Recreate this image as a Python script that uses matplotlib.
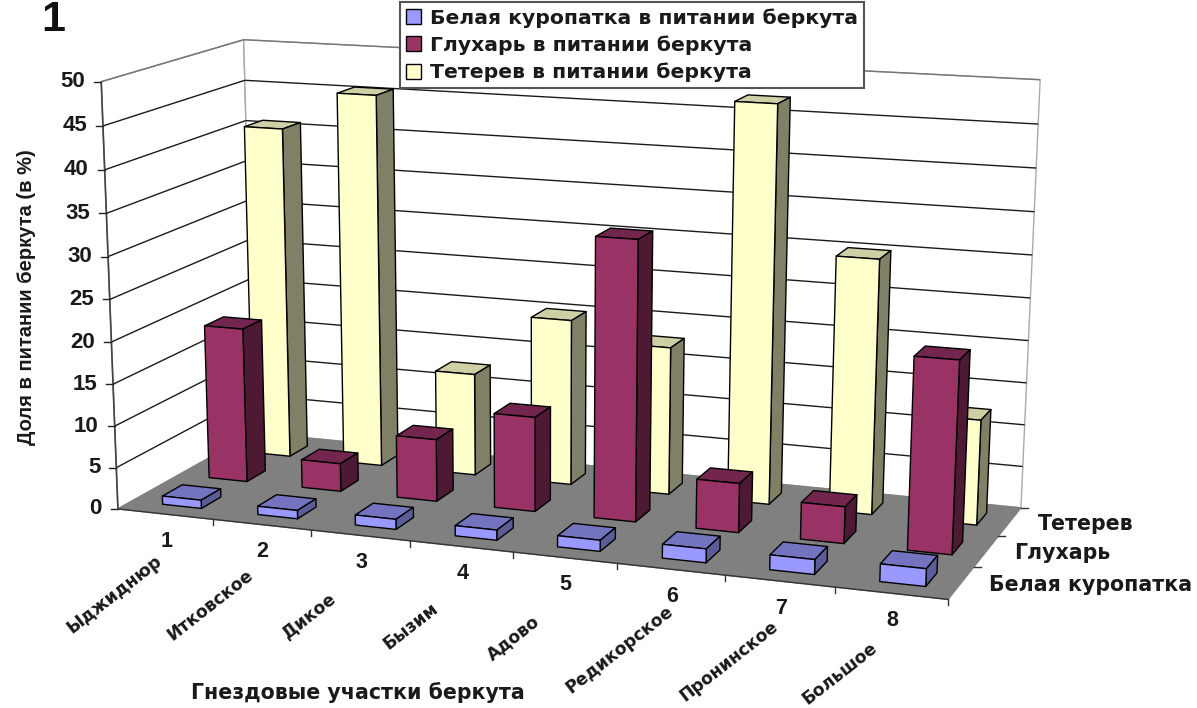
import numpy as np
import matplotlib
matplotlib.use("Agg")
import matplotlib.pyplot as plt
from matplotlib.patches import Polygon, Patch

plt.rcParams['font.family'] = ['Liberation Sans', 'DejaVu Sans']
plt.rcParams['font.weight'] = 'bold'
WIDE = ['DejaVu Sans']

# Nesting territories and prey shares, percent of the eagle's diet
site_numbers = ["1", "2", "3", "4", "5", "6", "7", "8"]
site_names = ["Ыджиднюр", "Итковское", "Дикое", "Бызим", "Адово",
              "Редикорское", "Пронинское", "Большое"]
species = ["Белая куропатка", "Глухарь", "Тетерев"]
legend_labels = ["Белая куропатка в питании беркута",
                 "Глухарь в питании беркута",
                 "Тетерев в питании беркута"]
ptarmigan = [1.0, 1.0, 1.2, 1.2, 1.3, 1.6, 1.7, 2.0]
capercaillie = [18.8, 3.4, 7.5, 11.3, 33.0, 5.8, 4.3, 22.2]
black_grouse = [40.8, 45.5, 12.5, 20.1, 17.8, 47.1, 30.1, 12.4]
value_ticks = [0, 5, 10, 15, 20, 25, 30, 35, 40, 45, 50]

series = [ptarmigan, capercaillie, black_grouse]
face_colors = ["#9999FF", "#993366", "#FFFFCC"]
top_colors = ["#7373BF", "#73264D", "#CFCFA6"]
side_colors = ["#5C5C99", "#4D1933", "#808066"]

# Perspective camera for the (site, species, value) box, solved from its corners
box_corners = np.array([[0, 0, 0], [8, 0, 0], [8, 3, 0], [0, 3, 0],
                        [0, 0, 50], [0, 3, 50], [8, 3, 50]], float)
screen_corners = np.array([[120, 510], [947, 600], [1022, 507], [252, 432],
                           [100, 80], [245, 41], [1040, 80]], float)


def solve_camera(world, screen):
    rows, rhs = [], []
    for (x, y, z), (u, v) in zip(world, screen):
        rows.append([x, y, z, 1, 0, 0, 0, 0, -u * x, -u * y, -u * z])
        rows.append([0, 0, 0, 0, x, y, z, 1, -v * x, -v * y, -v * z])
        rhs += [u, v]
    p = np.linalg.lstsq(np.array(rows), np.array(rhs), rcond=None)[0]
    return np.append(p, 1.0).reshape(3, 4)


camera = solve_camera(box_corners, screen_corners)


def project(x, y, z):
    u, v, w = camera @ np.array([x, y, z, 1.0])
    return u / w, v / w


fig = plt.figure(figsize=(11.97, 7.08), dpi=100)
ax = fig.add_axes([0, 0, 1, 1])
ax.set_xlim(0, 1197)
ax.set_ylim(708, 0)
ax.axis("off")


def face(points, fc, ec="black", lw=1.0, z=1):
    ax.add_patch(Polygon([project(*p) for p in points], closed=True, fc=fc,
                         ec=ec, lw=lw, zorder=z, joinstyle="round"))


def segment(a, b, color="black", lw=1.0, z=1):
    (u0, v0), (u1, v1) = project(*a), project(*b)
    ax.plot([u0, u1], [v0, v1], color=color, lw=lw, zorder=z,
            solid_capstyle="butt")


# Walls and floor
top = value_ticks[-1]
face([(0, 0, 0), (0, 3, 0), (0, 3, top), (0, 0, top)], "white", ec="#888888")
face([(0, 3, 0), (8, 3, 0), (8, 3, top), (0, 3, top)], "white", ec="#AAAAAA")
face([(0, 0, 0), (8, 0, 0), (8, 3, 0), (0, 3, 0)], "#808080", ec="#808080", z=2)

for value in value_ticks[1:]:
    shade = "#777777" if value == top else "#1A1A1A"
    segment((0, 0, value), (0, 3, value), color=shade, z=1.5)
    segment((0, 3, value), (8, 3, value), color=shade, z=1.5)
segment((0, 0, 0), (0, 0, top), color="#444444", lw=1.2, z=1.6)
segment((0, 0, 0), (8, 0, 0), color="#333333", lw=1.0, z=2.1)

# Value axis ticks and labels
for value in value_ticks:
    u, v = project(0, 0, value)
    ax.plot([u - 7, u], [v, v], color="#222222", lw=1.0, zorder=3)
    ax.text(u - 16, v, str(value), ha="right", va="center", fontsize=16,
            color="#1A1A1A")

# Site ticks along the front edge, numbers and rotated names below
for i in range(1, 9):
    u, v = project(i, 0, 0)
    ax.plot([u, u], [v, v + 6], color="#333333", lw=1.0, zorder=3)
for i, (number, name) in enumerate(zip(site_numbers, site_names)):
    u, v = project(i + 0.5, 0, 0)
    ax.text(u + 1, v + 27, number, ha="center", va="center", fontsize=15.5,
            color="#1A1A1A")
    ax.text(u - 51, v + 80, name, ha="center", va="center", rotation=38,
            rotation_mode="anchor", fontsize=12.3, family=WIDE, color="#1A1A1A")

# Species ticks along the right edge and their labels
for j in range(1, 4):
    u, v = project(8, j, 0)
    ax.plot([u, u + 7], [v, v], color="#333333", lw=1.0, zorder=3)
for j, name in enumerate(species):
    u, v = project(8, j + 0.5, 0)
    ax.text(u + 28, v + 2, name, ha="left", va="center", fontsize=14.8,
            family=WIDE, color="#1A1A1A")

# Bars: rear row first, left to right within each row
bar_width = 0.41
bar_depth = 0.42
bar_centre = 0.53
for j in (2, 1, 0):
    y0, y1 = j + 0.5 - bar_depth / 2, j + 0.5 + bar_depth / 2
    for i, value in enumerate(series[j]):
        x0, x1 = i + bar_centre - bar_width / 2, i + bar_centre + bar_width / 2
        z = 5 + (2 - j) * 10 + i
        face([(x0, y0, value), (x0, y1, value), (x1, y1, value), (x1, y0, value)],
             top_colors[j], z=z)
        face([(x1, y0, 0), (x1, y1, 0), (x1, y1, value), (x1, y0, value)],
             side_colors[j], z=z)
        face([(x0, y0, 0), (x1, y0, 0), (x1, y0, value), (x0, y0, value)],
             face_colors[j], z=z)

# Titles and panel number
ax.text(27, 297, "Доля в питании беркута (в %)", rotation=90, ha="center",
        va="center", fontsize=14.5, color="#1A1A1A")
ax.text(358, 693, "Гнездовые участки беркута", ha="center", va="center",
        fontsize=14.8, family=WIDE, color="#1A1A1A")
ax.text(53, 20, "1", ha="center", va="center", fontsize=31, color="#111111")

handles = [Patch(fc=c, ec="black", lw=1.0) for c in face_colors]
legend = ax.legend(handles, legend_labels, loc="upper left",
                   bbox_to_anchor=(400 / 1197, 1 - 2 / 708),
                   prop={"family": WIDE, "weight": "bold", "size": 14.7},
                   handlelength=0.75, handleheight=0.75, handletextpad=0.4,
                   labelspacing=0.38, borderpad=0.3, borderaxespad=0,
                   fancybox=False, framealpha=1, edgecolor="#555555",
                   labelcolor="#1A1A1A")
legend.set_zorder(100)
legend.get_frame().set_linewidth(1.5)

fig.savefig("out.png", dpi=100)
